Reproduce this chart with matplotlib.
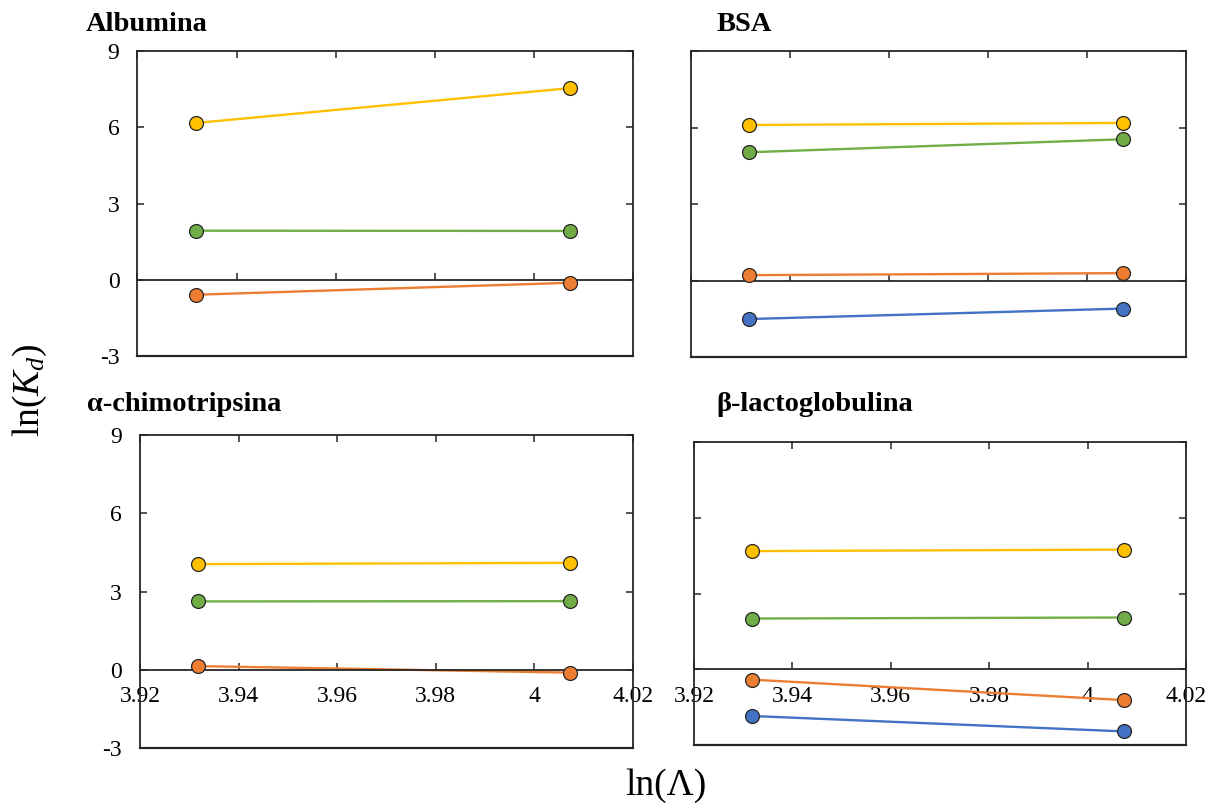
import matplotlib
matplotlib.use('Agg')
import matplotlib.pyplot as plt

plt.rcParams['font.family'] = ['Liberation Serif', 'DejaVu Serif']
plt.rcParams['mathtext.fontset'] = 'custom'
plt.rcParams['mathtext.rm'] = 'Liberation Serif'
plt.rcParams['mathtext.it'] = 'Liberation Serif:italic'
plt.rcParams['axes.unicode_minus'] = False

# x values: ln(Lambda)
ln_lambda = [3.9318, 4.0073]

# ln(Kd) per protein, one list per series (yellow, green, orange, blue)
alb_yellow = [6.17, 7.54]
alb_green = [1.93, 1.92]
alb_orange = [-0.59, -0.12]

bsa_yellow = [6.10, 6.18]
bsa_green = [5.03, 5.54]
bsa_orange = [0.21, 0.29]
bsa_blue = [-1.51, -1.10]

chy_yellow = [4.05, 4.10]
chy_green = [2.62, 2.63]
chy_orange = [0.14, -0.11]

blg_yellow = [4.68, 4.74]
blg_green = [2.01, 2.05]
blg_orange = [-0.41, -1.22]
blg_blue = [-1.85, -2.46]

titles = ['Albumina', 'BSA', 'α-chimotripsina', 'β-lactoglobulina']
xticks = [3.92, 3.94, 3.96, 3.98, 4.00, 4.02]
xticklabels = ['3.92', '3.94', '3.96', '3.98', '4', '4.02']
yticks = [-3, 0, 3, 6, 9]

c_yel = '#FFC000'
c_grn = '#70AD47'
c_org = '#ED7D31'
c_blu = '#4472C4'

panels = [
    [(alb_yellow, c_yel), (alb_green, c_grn), (alb_orange, c_org)],
    [(bsa_yellow, c_yel), (bsa_green, c_grn), (bsa_orange, c_org), (bsa_blue, c_blu)],
    [(chy_yellow, c_yel), (chy_green, c_grn), (chy_orange, c_org)],
    [(blg_yellow, c_yel), (blg_green, c_grn), (blg_orange, c_org), (blg_blue, c_blu)],
]

rects = [
    [0.1138, 0.5578, 0.4102, 0.3788],
    [0.5720, 0.5565, 0.4098, 0.3801],
    [0.1159, 0.0708, 0.4081, 0.3888],
    [0.5745, 0.0745, 0.4073, 0.3764],
]
title_pos = [(0.071, 0.970), (0.593, 0.970), (0.072, 0.498), (0.593, 0.498)]

fig = plt.figure(figsize=(12.08, 8.05), dpi=100)
spine_c = '#262626'

for i in range(4):
    ax = fig.add_axes(rects[i])
    for ys, col in panels[i]:
        ax.plot(ln_lambda, ys, color=col, lw=1.7, zorder=2)
        ax.plot(ln_lambda, ys, 'o', ms=10, mfc=col, mec='#262626', mew=0.9, zorder=3)
    ax.set_xlim(3.92, 4.02)
    ax.set_ylim(-3, 9)
    ax.spines['bottom'].set_position(('data', 0))
    for s in ax.spines.values():
        s.set_color(spine_c)
        s.set_linewidth(1.3)
    ax.plot([0, 1], [0, 0], transform=ax.transAxes, color=spine_c, lw=1.6,
            clip_on=False, zorder=1)
    ax.set_xticks(xticks)
    ax.set_yticks(yticks)
    ax.tick_params(axis='x', which='both', direction='in', top=True, bottom=True,
                   length=5, width=1.1, color=spine_c, labelsize=17, pad=12)
    ax.tick_params(axis='y', which='both', direction='in', left=True, right=True,
                   length=5, width=1.1, color=spine_c, labelsize=17, pad=13)
    if i >= 2:
        ax.set_xticklabels(xticklabels)
    else:
        ax.set_xticklabels([])
    if i % 2 == 1:
        ax.set_yticklabels([])
    fig.text(title_pos[i][0], title_pos[i][1], titles[i], fontsize=20.5,
             fontweight='bold', ha='left', va='center')

fig.text(0.025, 0.5155, r'ln($K_d$)', rotation=90, fontsize=27, ha='center', va='center')
fig.text(0.551, 0.012, 'ln(Λ)', fontsize=27, ha='center', va='baseline')

fig.savefig('out.png', dpi=100)
